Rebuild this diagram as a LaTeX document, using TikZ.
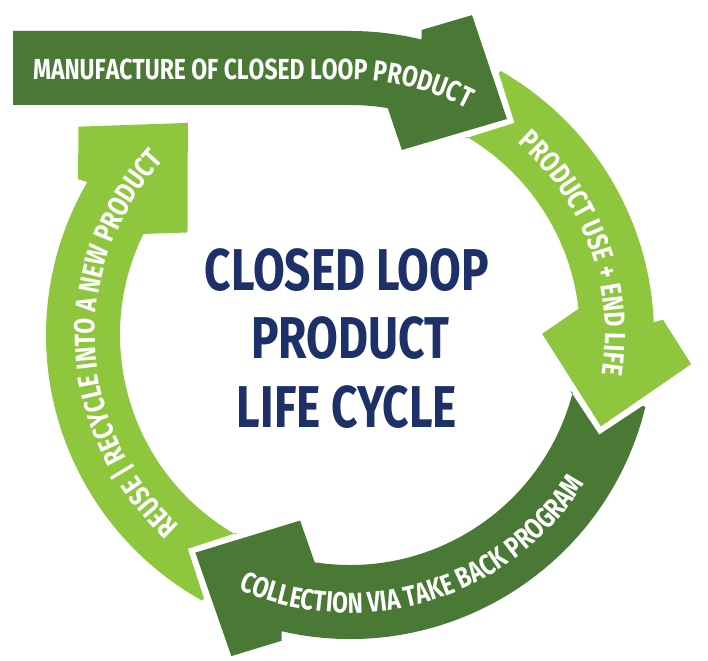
\documentclass[tikz,border=0pt]{standalone}
\usepackage{fontspec}
\usetikzlibrary{calc,decorations.text}
\newfontfamily\bandfont{Fira Sans}[FakeStretch=0.79]
\newfontfamily\titlefont{Fira Sans}[FakeStretch=0.78]
\definecolor{dkg}{RGB}{74,121,54}
\definecolor{ltg}{RGB}{142,198,62}
\definecolor{navy}{RGB}{30,48,104}
\newcommand\mkhead[2]{%
  \coordinate (#1T) at ($(ctr)+(#2:267)$);
  \coordinate (#1B) at ($(ctr)+({#2+17}:267)$);
  \coordinate (#1W1) at ($(#1B)!76pt!90:(#1T)$);
  \coordinate (#1W2) at ($(#1B)!76pt!-90:(#1T)$);
  \coordinate (#1K) at ($(#1W1)+(#1W2)-(#1T)$);
  \coordinate (#1B1) at ($(#1W1)!0.48!(#1K)$);
  \coordinate (#1I) at ($(#1W2)!0.40!(#1K)$);
  \coordinate (#1N) at ($(#1T)!-8.5pt!(#1B)$);
  \coordinate (#1TO) at ($(#1N)!52.3pt!-45:(#1B)$);
  \coordinate (#1TI) at ($(#1N)!52.3pt!45:(#1B)$);
}
\tikzset{
  bandtext/.style={decorate, decoration={text along path, text align=#1}},
  title/.style={text=navy, font=\titlefont\bfseries\fontsize{59}{60}\selectfont, inner sep=0pt}
}
\newcommand\bt{|\bandfont\bfseries\fontsize{29}{30}\selectfont\color{white}|}
\begin{document}
\begin{tikzpicture}[x=1pt,y=1pt]
\useasboundingbox (0,0) rectangle (708,660);
\coordinate (ctr) at (350,325);
\mkhead{M}{54}
\mkhead{P}{-20}
\mkhead{Q}{-125.4}
\mkhead{R}{127.4}
% manufacture (dark)
\fill[dkg] (13,555) -- (13,629) -- (350,629) arc[start angle=90, end angle=76.4, radius=304]
  -- (MB1) -- (MW1) -- (MT) -- (MW2) -- (MI) -- ($(ctr)+(79.5:230)$)
  arc[start angle=79.5, end angle=90, radius=230] -- cycle;
% product use (light)
\fill[ltg] (MTO) -- ($(ctr)+(60.3:304)$) arc[start angle=60.3, end angle=2.4, radius=304]
  -- (PB1) -- (PW1) -- (PT) -- (PW2) -- (PI) -- ($(ctr)+(5.5:230)$)
  arc[start angle=5.5, end angle=59.5, radius=230] -- (MTI) -- (MN) -- cycle;
% collection (dark)
\fill[dkg] (PTO) -- ($(ctr)+(-13.7:304)$) arc[start angle=-13.7, end angle=-103, radius=304]
  -- (QB1) -- (QW1) -- (QT) -- (QW2) -- (QI) -- ($(ctr)+(-99.9:230)$)
  arc[start angle=-99.9, end angle=-14.5, radius=230] -- (PTI) -- (PN) -- cycle;
% reuse (light)
\fill[ltg] (QTO) -- ($(ctr)+(-119.1:304)$) arc[start angle=-119.1, end angle=-210.2, radius=304]
  -- (RB1) -- (RW1) -- (RT) -- (RW2) -- (RI) -- ($(ctr)+(-207.1:230)$)
  arc[start angle=-207.1, end angle=-119.9, radius=230] -- (QTI) -- (QN) -- cycle;
% band texts
\path[bandtext=left, decoration={text={\bt MANUFACTURE OF CLOSED LOOP PRODUCT}}]
  (33,580) -- (350,580) arc[start angle=90, end angle=45, radius=255];
\path[bandtext=center, decoration={text={\bt PRODUCT USE + END LIFE}}]
  ($(ctr)+(57:255)$) arc[start angle=57, end angle=-17, radius=255];
\path[bandtext=center, decoration={text={\bt COLLECTION VIA TAKE BACK PROGRAM}}]
  ($(ctr)+(-120:278)$) arc[start angle=-120, end angle=-26, radius=278];
\path[bandtext=center, decoration={text={\bt REUSE {\textbar} RECYCLE INTO A NEW PRODUCT}}]
  ($(ctr)+(232:255)$) arc[start angle=232, end angle=133, radius=255];
% title
\node[title] (t1) at (347,390) {CLOSED LOOP};
\node[title] (t2) at (350,322) {PRODUCT};
\node[title] (t3) at (347,253) {LIFE CYCLE};
\end{tikzpicture}
\end{document}
